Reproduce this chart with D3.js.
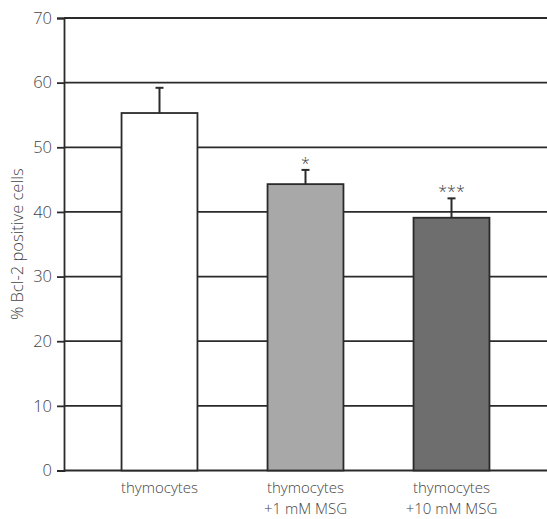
<!DOCTYPE html>
<html>
<head>
<meta charset="utf-8">
<title>Bcl-2 positive cells</title>
<script src="https://d3js.org/d3.v7.min.js"></script>
<style>
  body { margin: 0; background: #fff; }
  text { font-family: "Open Sans", sans-serif; font-weight: 300; fill: #444; }
</style>
</head>
<body>
<div id="chart"></div>
<script>
var groups = ["thymocytes", "thymocytes\n+1 mM MSG", "thymocytes\n+10 mM MSG"];
var values = [55.3, 44.3, 39.1];
var errors = [3.9, 2.2, 3.0];
var stars = ["", "*", "***"];
var fills = ["#ffffff", "#a8a8a8", "#6e6e6e"];
var yTicks = [0, 10, 20, 30, 40, 50, 60, 70];

var W = 547, H = 519;
var svg = d3.select("#chart").append("svg")
    .attr("width", W).attr("height", H);

var x0 = 64, yBottom = 470.5, yTop = 18;

var y = d3.scaleLinear().domain([0, 70]).range([yBottom, yTop]);
var x = d3.scaleBand().domain(groups).range([86.5, 524.5])
    .paddingInner(0.48).paddingOuter(0.24);

// grid lines, full width to the right edge
svg.append("g").selectAll("line")
  .data(yTicks)
  .enter().append("line")
    .attr("x1", x0).attr("x2", W)
    .attr("y1", function(d) { return y(d); })
    .attr("y2", function(d) { return y(d); })
    .attr("stroke", "#2a2a2a")
    .attr("stroke-width", 1.8);

// y axis
var yAxis = svg.append("g")
    .attr("transform", "translate(" + x0 + ",0)")
    .call(d3.axisLeft(y).tickValues(yTicks).tickSize(7).tickPadding(5));
yAxis.select(".domain").attr("stroke", "#2a2a2a").attr("stroke-width", 1.8);
yAxis.selectAll(".tick line").attr("stroke", "#2a2a2a").attr("stroke-width", 1.8);
yAxis.selectAll(".tick text")
    .style("font-family", "'Open Sans', sans-serif")
    .style("font-weight", 300)
    .style("font-size", "16.5px").attr("fill", "#444");

// error bars
var eb = svg.append("g");
groups.forEach(function(g, i) {
  var cx = x(g) + x.bandwidth() / 2;
  eb.append("line")
    .attr("x1", cx).attr("x2", cx)
    .attr("y1", y(values[i])).attr("y2", y(values[i] + errors[i]))
    .attr("stroke", "#2a2a2a").attr("stroke-width", 2);
  eb.append("line")
    .attr("x1", cx - 4).attr("x2", cx + 4)
    .attr("y1", y(values[i] + errors[i])).attr("y2", y(values[i] + errors[i]))
    .attr("stroke", "#2a2a2a").attr("stroke-width", 2);
  eb.append("text")
    .attr("x", cx).attr("y", y(values[i] + errors[i]) - 1)
    .attr("text-anchor", "middle")
    .style("font-size", "16px")
    .text(stars[i]);
});

// bars
svg.append("g").selectAll("rect")
  .data(values)
  .enter().append("rect")
    .attr("x", function(d, i) { return x(groups[i]); })
    .attr("width", x.bandwidth())
    .attr("y", function(d) { return y(d); })
    .attr("height", function(d) { return y(0) - y(d); })
    .attr("fill", function(d, i) { return fills[i]; })
    .attr("stroke", "#2a2a2a")
    .attr("stroke-width", 1.8);

// x labels
var xl = svg.append("g");
groups.forEach(function(g) {
  var t = xl.append("text")
    .attr("x", x(g) + x.bandwidth() / 2)
    .attr("y", 493)
    .attr("text-anchor", "middle")
    .style("font-size", "15px");
  g.split("\n").forEach(function(line, k) {
    t.append("tspan")
      .attr("x", x(g) + x.bandwidth() / 2)
      .attr("dy", k === 0 ? 0 : 20.8)
      .text(line);
  });
});

// y label
svg.append("text")
  .attr("transform", "translate(23," + ((yTop + yBottom) / 2) + ") rotate(-90)")
  .attr("text-anchor", "middle")
  .style("font-size", "16.5px")
  .text("% Bcl-2 positive cells");
</script>
</body>
</html>
